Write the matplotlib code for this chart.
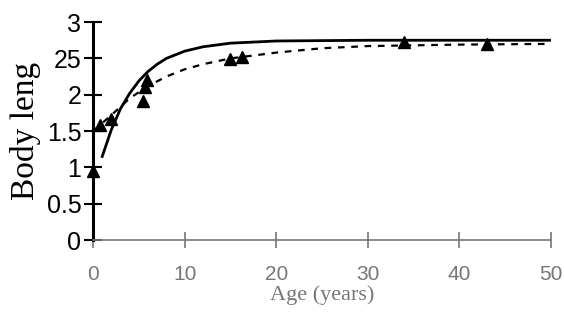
import matplotlib.pyplot as plt

# observed points (age, body length)
age_obs = [0, 0.8, 2, 5.5, 5.7, 5.9, 15, 16.3, 34, 43]
len_obs = [0.95, 1.58, 1.67, 1.91, 2.10, 2.20, 2.49, 2.52, 2.72, 2.70]

# solid fitted curve
age_fit1 = [1, 2, 3, 4, 5, 6, 7, 8, 10, 12, 15, 20, 30, 40, 50]
len_fit1 = [1.15, 1.52, 1.81, 2.02, 2.19, 2.32, 2.42, 2.50, 2.60, 2.66, 2.71, 2.74, 2.75, 2.75, 2.75]

# dashed fitted curve
age_fit2 = [0, 2, 4, 6, 8, 10, 12, 15, 20, 25, 30, 40, 50]
len_fit2 = [1.50, 1.72, 1.95, 2.12, 2.25, 2.35, 2.42, 2.50, 2.58, 2.64, 2.67, 2.69, 2.70]

xticks = [0, 10, 20, 30, 40, 50]
yticks = [0, 0.5, 1, 1.5, 2, 2.5, 3]
ytick_labels = ["0", "0.5", "1", "1.5", "2", "25", "3"]

fig = plt.figure(figsize=(5.64, 3.25), dpi=100)
ax = fig.add_axes([0.165, 0.2615, 0.812, 0.6705])

ax.plot(age_fit1, len_fit1, color="black", lw=2)
ax.plot(age_fit2, len_fit2, color="black", lw=1.6, ls=(0, (3, 3)))
ax.plot(age_obs, len_obs, ls="none", marker="^", color="black", ms=9, clip_on=False)

ax.set_xlim(0, 50)
ax.set_ylim(0, 3)
ax.spines["top"].set_visible(False)
ax.spines["right"].set_visible(False)
ax.spines["left"].set_linewidth(2.2)
ax.spines["bottom"].set_color("#777777")
ax.spines["bottom"].set_linewidth(1.2)

ax.set_yticks(yticks)
ax.set_yticklabels(ytick_labels, family="Liberation Sans", fontsize=18)
ax.set_xticks(xticks)
ax.set_xticklabels([str(t) for t in xticks], family="Liberation Sans", fontsize=15, color="#777777")
ax.tick_params(axis="y", direction="inout", length=13, width=1.5, pad=2)
ax.tick_params(axis="x", direction="inout", length=12, width=1.2, color="#777777", pad=12)

ax.set_xlabel("Age (years)", family="Liberation Serif", fontsize=16, color="#777777", labelpad=1)
ax.set_ylabel("Body leng", family="Liberation Serif", fontsize=24, labelpad=4)

fig.savefig("out.png", dpi=100)
